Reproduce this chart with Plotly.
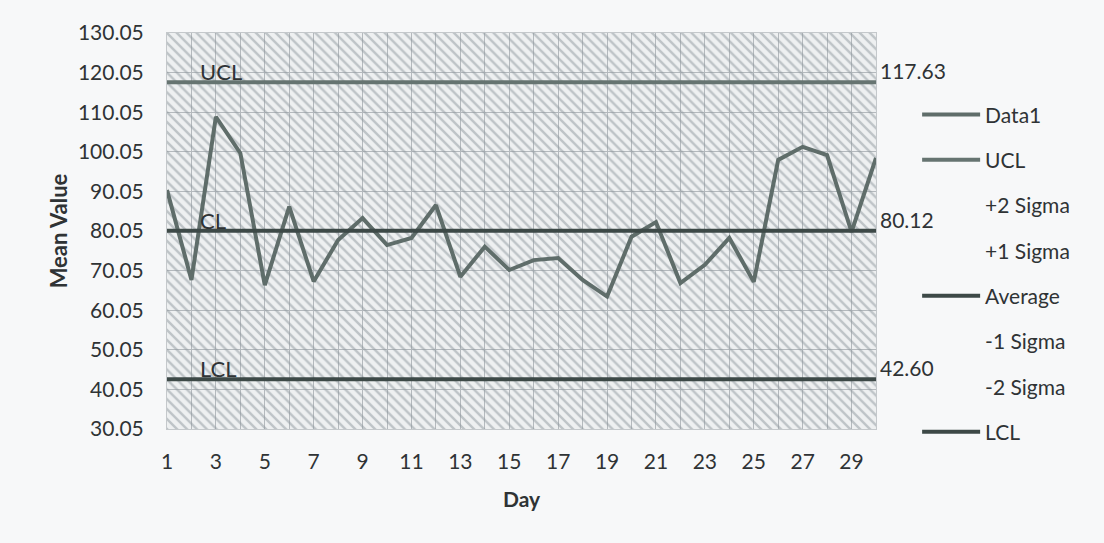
import plotly.graph_objects as go

days = list(range(1, 31))
data1 = [90.4, 67.7, 108.9, 99.7, 66.4, 86.2, 67.3, 77.8, 83.3, 76.5,
         78.3, 86.6, 68.5, 76.1, 70.2, 72.7, 73.2, 67.7, 63.5, 78.6,
         82.3, 66.9, 71.5, 78.3, 67.2, 98.0, 101.3, 99.2, 79.8, 98.5]
ucl_value = 117.63
cl_value = 80.12
lcl_value = 42.60
y_min, y_max = 30.05, 130.05
x_tick_labels = [str(d) for d in range(1, 30, 2)]
legend_names = ["Data1", "UCL", "+2 Sigma", "+1 Sigma", "Average", "-1 Sigma", "-2 Sigma", "LCL"]

FONT = "Lato"
TXT = "#2f3335"
C_DATA = "#5f6d6a"
C_UCL = "#667471"
C_DARK = "#3d4947"

fig = go.Figure()

# hatched plot-area background
fig.add_trace(go.Scatter(
    x=[days[0], days[-1], days[-1], days[0], days[0]],
    y=[y_min, y_min, y_max, y_max, y_min],
    mode="lines", fill="toself", line=dict(width=0),
    fillcolor="rgba(0,0,0,0)",
    fillpattern=dict(shape="\\", fgcolor="#8e979d", bgcolor="rgba(0,0,0,0)", size=7, solidity=0.35),
    hoverinfo="skip", showlegend=False))

series = {
    "Data1": (data1, C_DATA),
    "UCL": ([ucl_value] * len(days), C_UCL),
    "Average": ([cl_value] * len(days), C_DARK),
    "LCL": ([lcl_value] * len(days), C_DARK),
}

for i, name in enumerate(legend_names):
    if name in series:
        vals, col = series[name]
        fig.add_trace(go.Scatter(x=days, y=vals, mode="lines", name=name,
                                 line=dict(color=col, width=4), legendgroup=name))
    else:
        fig.add_trace(go.Scatter(x=[None], y=[None], mode="lines", name=name,
                                 line=dict(color="rgba(0,0,0,0)", width=0), legendgroup=name))

annos = []
for lab, val in [("UCL", ucl_value), ("CL", cl_value), ("LCL", lcl_value)]:
    annos.append(dict(x=2.25, y=val, xref="x", yref="y", text=lab, showarrow=False,
                      xanchor="left", yanchor="bottom", yshift=-5,
                      font=dict(family=FONT, size=22, color=TXT)))
    annos.append(dict(x=1, y=val, xref="paper", yref="y", text=f"{val:.2f}", showarrow=False,
                      xanchor="left", yanchor="bottom", xshift=2, yshift=-3,
                      font=dict(family=FONT, size=21, color=TXT)))

fig.update_layout(
    width=1104, height=543,
    margin=dict(l=167, r=228, t=33, b=114),
    paper_bgcolor="#f7f8f9", plot_bgcolor="#eef0f1",
    font=dict(family=FONT, size=21, color=TXT),
    annotations=annos,
    legend=dict(x=1.058, xanchor="left", y=0.845, yanchor="top",
                bgcolor="rgba(0,0,0,0)", tracegroupgap=15, itemwidth=58,
                font=dict(family=FONT, size=21, color=TXT)),
    xaxis=dict(range=[days[0], days[-1]], tickmode="array",
               tickvals=[int(t) for t in x_tick_labels], ticktext=x_tick_labels,
               showgrid=True, gridcolor="#b4b9bd", gridwidth=1,
               minor=dict(dtick=1, tick0=0, showgrid=True, gridcolor="#b4b9bd", gridwidth=1),
               zeroline=False, showline=True, linecolor="#c4c8cb", mirror=True,
               ticks="", ticklabelstandoff=14,
               title=dict(text="<b>Day</b>", standoff=20, font=dict(size=21))),
    yaxis=dict(range=[y_min, y_max], tick0=y_min, dtick=10, tickformat=".2f",
               showgrid=True, gridcolor="#b4b9bd", gridwidth=1,
               zeroline=False, showline=True, linecolor="#c4c8cb", mirror=True,
               ticks="", ticklabelstandoff=18,
               title=dict(text="<b>Mean Value</b>", standoff=4, font=dict(size=22))),
)

fig.write_html("out.html")
